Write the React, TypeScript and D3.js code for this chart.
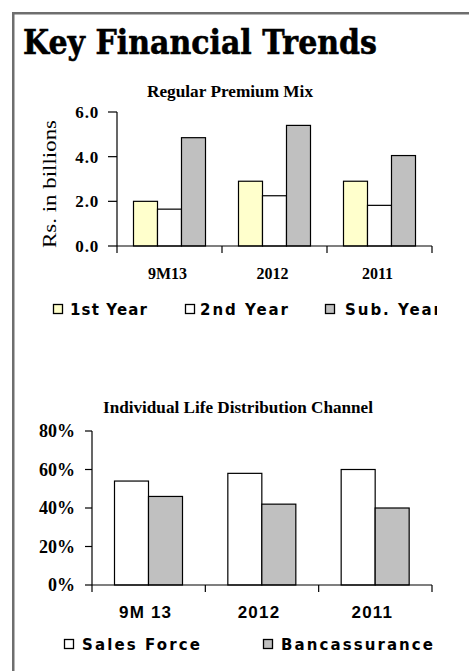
import React from "react";
import * as d3 from "d3";

const premCategories = ["9M13", "2012", "2011"];
const premSeries = ["1st Year", "2nd Year", "Sub. Year"];
const firstYear = [2.0, 2.9, 2.9];
const secondYear = [1.65, 2.25, 1.82];
const subYear = [4.85, 5.4, 4.05];
const premTicks = [0, 2, 4, 6];

const chanCategories = ["9M 13", "2012", "2011"];
const chanSeries = ["Sales Force", "Bancassurance"];
const salesForce = [0.54, 0.58, 0.6];
const bancassurance = [0.46, 0.42, 0.4];
const chanTicks = [0, 0.2, 0.4, 0.6, 0.8];

const premColors = ["#FFFFCC", "#FFFFFF", "#C0C0C0"];
const chanColors = ["#FFFFFF", "#C0C0C0"];

const serif = "'Liberation Serif', 'Times New Roman', serif";
const sans = "'Liberation Sans', Arial, sans-serif";
const legendFont = "'DejaVu Sans', sans-serif";

export default function App() {
  // Chart 1
  const y1 = d3.scaleLinear().domain([0, 6]).range([246, 112]);
  const x1 = d3.scaleBand().domain(premCategories).range([117, 432]);
  const x1s = d3.scaleBand().domain(premSeries).range([16.5, 88.5]);
  const premValues = [firstYear, secondYear, subYear];

  // Chart 2
  const y2 = d3.scaleLinear().domain([0, 0.8]).range([585, 431]);
  const x2 = d3.scaleBand().domain(chanCategories).range([92, 432]);
  const x2s = d3.scaleBand().domain(chanSeries).range([22.5, 90.5]);
  const chanValues = [salesForce, bancassurance];

  const premLegend = [
    { sq: 53, tx: 70, len: 77 },
    { sq: 185, tx: 200, len: 88 },
    { sq: 325, tx: 345, len: 96 },
  ];
  const chanLegend = [
    { sq: 64, tx: 82, len: 118 },
    { sq: 263, tx: 281, len: 152 },
  ];

  return (
    <svg
      width={469}
      height={671}
      style={{ position: "absolute", left: 0, top: 0, background: "#fff" }}
    >
      <defs>
        <clipPath id="clipR">
          <rect x={0} y={0} width={437} height={671} />
        </clipPath>
      </defs>
      {/* frame */}
      <rect x={13.25} y={13.25} width={470} height={680} fill="none" stroke="#6e6e6e" strokeWidth={2.5} />

      <text
        x={23}
        y={54}
        fontFamily="'DejaVu Serif', serif"
        fontWeight="bold"
        fontSize={33}
        textLength={354}
        lengthAdjust="spacingAndGlyphs"
        fill="#000"
        stroke="#000"
        strokeWidth={0.6}
      >
        Key Financial Trends
      </text>

      {/* Chart 1 */}
      <text x={230} y={97} textAnchor="middle" fontFamily={serif} fontWeight="bold" fontSize={16} textLength={166} lengthAdjust="spacingAndGlyphs">
        Regular Premium Mix
      </text>
      <text
        transform="translate(56,184) rotate(-90)"
        textAnchor="middle"
        fontFamily={serif}
        fontSize={19}
        textLength={128}
        lengthAdjust="spacingAndGlyphs"
      >
        Rs. in billions
      </text>
      {premCategories.map((c, ci) =>
        premSeries.map((s, si) => {
          const v = premValues[si][ci];
          return (
            <rect
              key={c + s}
              x={(x1(c) as number) + (x1s(s) as number)}
              y={y1(v)}
              width={x1s.bandwidth()}
              height={y1(0) - y1(v)}
              fill={premColors[si]}
              stroke="#000"
              strokeWidth={1.2}
            />
          );
        })
      )}
      <line x1={117} x2={117} y1={y1(6)} y2={y1(0)} stroke="#000" strokeWidth={1.2} />
      <line x1={117} x2={432} y1={y1(0)} y2={y1(0)} stroke="#000" strokeWidth={1.2} />
      {premTicks.map((t) => (
        <g key={t}>
          <line x1={108} x2={117} y1={y1(t)} y2={y1(t)} stroke="#000" strokeWidth={1.2} />
          <text x={99} y={y1(t) + 6} textAnchor="end" fontFamily={serif} fontWeight="bold" fontSize={17} letterSpacing={0.8}>
            {t.toFixed(1)}
          </text>
        </g>
      ))}
      {[...premCategories.map((c) => x1(c) as number), 432].map((x, i) => (
        <line key={i} x1={x} x2={x} y1={y1(0)} y2={y1(0) + 7} stroke="#000" strokeWidth={1.2} />
      ))}
      {premCategories.map((c) => (
        <text key={c} x={(x1(c) as number) + x1.bandwidth() / 2 - 2} y={279} textAnchor="middle" fontFamily={serif} fontWeight="bold" fontSize={16}>
          {c}
        </text>
      ))}
      <g clipPath="url(#clipR)">
        {premSeries.map((s, i) => (
          <g key={s}>
            <rect x={premLegend[i].sq + 0.5} y={304.5} width={9} height={9} fill={premColors[i]} stroke="#000" strokeWidth={1.3} />
            <text x={premLegend[i].tx} y={315} fontFamily={legendFont} fontWeight="bold" fontSize={15} textLength={premLegend[i].len} lengthAdjust="spacing">
              {s}
            </text>
          </g>
        ))}
      </g>

      {/* Chart 2 */}
      <text x={238} y={413} textAnchor="middle" fontFamily={serif} fontWeight="bold" fontSize={16} textLength={270} lengthAdjust="spacingAndGlyphs">
        Individual Life Distribution Channel
      </text>
      {chanCategories.map((c, ci) =>
        chanSeries.map((s, si) => {
          const v = chanValues[si][ci];
          return (
            <rect
              key={c + s}
              x={(x2(c) as number) + (x2s(s) as number)}
              y={y2(v)}
              width={x2s.bandwidth()}
              height={y2(0) - y2(v)}
              fill={chanColors[si]}
              stroke="#000"
              strokeWidth={1.2}
            />
          );
        })
      )}
      <line x1={92} x2={92} y1={y2(0.8)} y2={y2(0)} stroke="#000" strokeWidth={1.2} />
      <line x1={92} x2={432} y1={y2(0)} y2={y2(0)} stroke="#000" strokeWidth={1.2} />
      {chanTicks.map((t) => (
        <g key={t}>
          <line x1={85} x2={92} y1={y2(t)} y2={y2(t)} stroke="#000" strokeWidth={1.2} />
          <text x={75} y={y2(t) + 6} textAnchor="end" fontFamily={serif} fontWeight="bold" fontSize={18}>
            {d3.format(".0%")(t)}
          </text>
        </g>
      ))}
      {[...chanCategories.map((c) => x2(c) as number), 432].map((x, i) => (
        <line key={i} x1={x} x2={x} y1={y2(0)} y2={y2(0) + 7} stroke="#000" strokeWidth={1.2} />
      ))}
      {chanCategories.map((c) => (
        <text key={c} x={(x2(c) as number) + x2.bandwidth() / 2 - 3} y={618} textAnchor="middle" fontFamily={sans} fontWeight="bold" fontSize={17} letterSpacing={1.2}>
          {c}
        </text>
      ))}
      {chanSeries.map((s, i) => (
        <g key={s}>
          <rect x={chanLegend[i].sq + 0.5} y={639.5} width={9} height={9} fill={chanColors[i]} stroke="#000" strokeWidth={1.3} />
          <text x={chanLegend[i].tx} y={650} fontFamily={legendFont} fontWeight="bold" fontSize={15} textLength={chanLegend[i].len} lengthAdjust="spacing">
            {s}
          </text>
        </g>
      ))}
    </svg>
  );
}
